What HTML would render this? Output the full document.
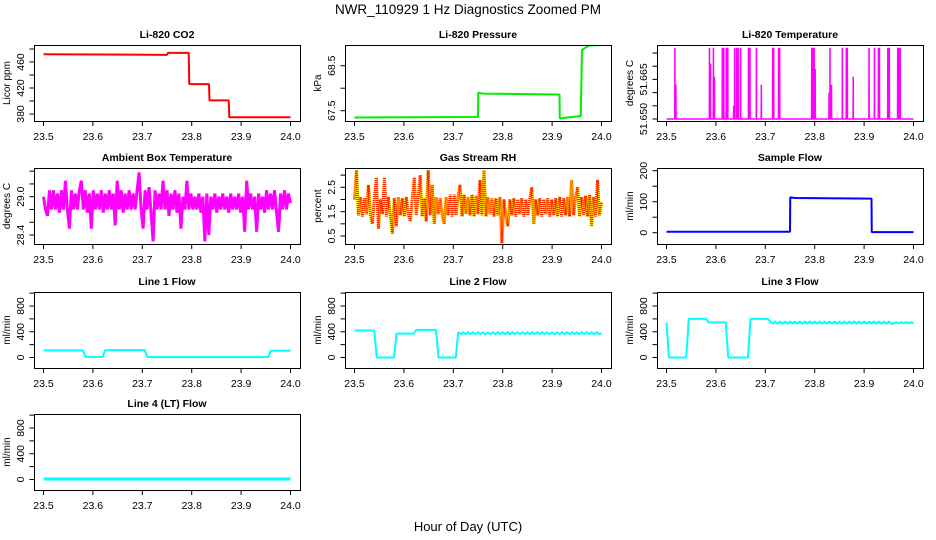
<!DOCTYPE html>
<html><head><meta charset="utf-8"><style>
html,body{margin:0;padding:0;background:#fff;}
svg{display:block;font-family:"Liberation Sans",sans-serif;}
</style></head><body>
<svg id="fig" width="936" height="540" viewBox="0 0 936 540">
<rect width="936" height="540" fill="#fff"/>
<text x="468" y="14" text-anchor="middle" font-size="13.5">NWR_110929  1 Hz Diagnostics Zoomed PM</text>
<text x="468" y="531" text-anchor="middle" font-size="13">Hour of Day (UTC)</text>
</svg>
<script>
// ---------- data ----------
var xTicks = [23.5, 23.6, 23.7, 23.8, 23.9, 24.0];
var xTickLabels = ["23.5", "23.6", "23.7", "23.8", "23.9", "24.0"];

var co2Times = [23.5, 23.75, 23.752, 23.794, 23.795, 23.835, 23.836, 23.875, 23.876, 24.0];
var co2Values = [472, 471, 474, 474, 426, 426, 401, 401, 375, 375];

var presTimes = [23.5, 23.75, 23.7505, 23.76, 23.915, 23.9155, 23.94, 23.958, 23.9605, 23.975, 24.0];
var presValues = [67.35, 67.36, 67.9, 67.88, 67.86, 67.33, 67.36, 67.38, 68.85, 68.95, 68.96];

var tempBase = 51.650;
var tempSpikeTimes = [23.517, 23.519, 23.587, 23.589, 23.595, 23.597, 23.613, 23.616, 23.621, 23.624, 23.636, 23.638, 23.642, 23.645, 23.65, 23.666, 23.669, 23.682, 23.692, 23.715, 23.717, 23.727, 23.729, 23.794, 23.796, 23.799, 23.801, 23.829, 23.831, 23.834, 23.856, 23.864, 23.866, 23.878, 23.91, 23.921, 23.929, 23.931, 23.948, 23.951, 23.968, 23.97, 23.973];
var tempSpikeValues = [51.677, 51.663, 51.677, 51.671, 51.677, 51.666, 51.677, 51.677, 51.677, 51.677, 51.655, 51.677, 51.677, 51.677, 51.677, 51.677, 51.677, 51.677, 51.663, 51.677, 51.677, 51.677, 51.677, 51.677, 51.677, 51.677, 51.669, 51.660, 51.677, 51.663, 51.677, 51.677, 51.677, 51.666, 51.677, 51.677, 51.677, 51.677, 51.677, 51.677, 51.677, 51.677, 51.677];

var ambValues = [29.0,28.8,28.7,29.1,28.8,29.1,28.8,29.05,28.75,29.1,28.8,29.25,28.8,28.5,29.1,28.8,29.05,28.8,29.1,29.25,28.8,29.1,28.75,29.05,28.5,29.1,28.8,29.05,28.8,29.1,28.75,29.05,28.8,29.1,28.8,29.05,28.55,29.25,28.8,29.1,28.75,29.05,28.8,29.1,28.8,29.05,28.8,29.1,29.38,28.8,28.5,29.1,28.8,29.15,28.75,28.3,29.1,28.8,29.05,28.8,29.25,28.8,29.1,28.7,29.05,28.8,29.1,28.75,29.05,28.5,29.0,28.8,29.25,28.8,29.05,28.8,29.0,28.8,29.05,28.75,29.0,28.3,29.05,28.4,29.0,28.8,29.05,28.75,29.0,28.8,29.05,28.8,29.0,28.75,29.05,28.8,29.0,28.8,29.05,28.75,29.0,28.45,29.25,28.8,29.05,28.8,29.0,28.45,29.05,28.8,29.0,28.75,29.1,28.8,29.05,28.8,29.1,28.75,28.45,29.05,28.8,29.1,28.8,29.05,28.9];

var rhValues = [2.0,3.2,1.35,2.1,1.3,2.05,1.4,2.6,1.35,1.0,2.1,2.9,0.8,2.0,1.4,2.9,1.3,2.1,1.35,0.6,2.05,0.9,2.1,1.35,2.05,1.3,2.1,1.4,1.1,2.05,2.9,1.35,2.1,3.0,1.3,2.05,1.1,3.2,1.35,2.6,1.0,2.1,1.4,2.05,1.35,1.0,2.1,1.35,2.2,1.3,2.2,1.35,2.15,2.6,1.3,2.2,1.4,2.1,1.35,2.2,1.3,2.15,1.4,2.8,1.35,3.2,1.3,2.1,1.4,2.05,1.3,2.05,1.35,2.1,0.2,2.0,1.3,0.9,2.0,1.35,2.05,1.3,2.0,1.4,2.05,1.3,2.0,1.35,2.05,2.5,1.0,2.0,1.35,2.05,1.3,2.0,1.4,2.05,1.3,2.0,1.35,2.05,1.3,2.1,1.3,2.05,1.35,2.1,1.3,2.8,1.35,2.1,2.5,1.3,2.1,1.35,2.15,1.3,2.2,0.9,2.1,1.3,2.8,1.35,1.9];

var sampleTimes = [23.5, 23.75, 23.7505, 23.76, 23.915, 23.9155, 24.0];
var sampleValues = [3, 3, 114, 112, 110, 2, 2];

// flows sampled every 0.005 h from 23.5 to 24.0 (101 values)
var line1Values = [110,110,110,110,110,110,110,110,110,110,110,110,110,110,110,110,110,10,10,10,10,10,10,10,10,115,115,115,115,115,115,115,115,115,115,115,115,115,115,115,115,115,5,5,5,5,5,5,5,5,5,5,5,5,5,5,5,5,5,5,5,5,5,5,5,5,5,5,5,5,5,5,5,5,5,5,5,5,5,5,5,5,5,5,5,5,5,5,5,5,5,5,105,105,105,105,105,105,105,105,105];
var line2Values = [420,420,420,420,420,420,420,420,420,0,0,0,0,0,0,0,0,370,370,370,370,370,370,370,370,430,430,430,430,430,430,430,430,430,0,0,0,0,0,0,0,0,395,360,395,360,395,360,395,360,395,360,395,360,395,360,395,360,395,360,395,360,395,360,395,360,395,360,395,360,395,360,395,360,395,360,395,360,395,360,395,360,395,360,395,360,395,360,395,360,395,360,395,360,395,360,395,360,395,360,375];
var line3Values = [540,0,0,0,0,0,0,0,0,600,600,600,600,600,600,600,600,545,545,545,545,545,545,545,545,0,0,0,0,0,0,0,0,0,600,600,600,600,600,600,600,600,560,525,560,525,560,525,560,525,560,525,560,525,560,525,560,525,560,525,560,525,560,525,560,525,560,525,560,525,560,525,560,525,560,525,560,525,560,525,560,525,560,525,560,525,560,525,560,525,560,525,530,550,530,550,530,550,530,550,530,550];
var line4Times = [23.5, 24.0];
var line4Values = [8, 8];

// ---------- drawing ----------
var NS = "http://www.w3.org/2000/svg";
var svg = document.getElementById("fig");
var colX = [34, 345, 657], rowY = [45, 168, 292, 414], BW = 266, BH = 76;

function mk(tag, attrs, parent) {
  var e = document.createElementNS(NS, tag);
  for (var k in attrs) e.setAttribute(k, attrs[k]);
  (parent || svg).appendChild(e);
  return e;
}
function gridTimes(n) { var a = []; for (var i = 0; i < n; i++) a.push(23.5 + 0.5 * i / (n - 1)); return a; }

function panel(p) {
  var L = colX[p.col], T = rowY[p.row];
  var g = mk("g", {});
  
  
  var xs = function (t) { return L + 9.5 + (t - 23.5) / 0.5 * 247; };
  var ys = function (v) { return T + p.ya.y + (v - p.ya.v) * (p.yb.y - p.ya.y) / (p.yb.v - p.ya.v); };
  var tt = mk("text", {x: L + BW / 2, y: T - 7, "text-anchor": "middle", "font-size": 10.5, "font-weight": "bold"}, g);
  tt.textContent = p.title;
  
  
  var xa = mk("g", {}, g);
  
  
  xTicks.forEach(function (t, i) {
    var x = xs(t);
    mk("line", {x1: x, x2: x, y1: T + BH, y2: T + BH + 5, stroke: "#000", "stroke-width": 1}, xa);
    var lb = mk("text", {x: x, y: T + BH + 19, "text-anchor": "middle", "font-size": 10.5}, xa);
    lb.textContent = xTickLabels[i];
  });
  var ya = mk("g", {}, g);
  
  
  p.yTicks.forEach(function (v) {
    var y = ys(v);
    mk("line", {x1: L - 4.5, x2: L, y1: y, y2: y, stroke: "#000", "stroke-width": 1}, ya);
  });
  p.yLabels.forEach(function (s, i) {
    var y = ys(p.yLabelVals[i]);
    var lb = mk("text", {x: L - 10, y: y, "text-anchor": "middle", "font-size": 10.5, transform: "rotate(-90 " + (L - 10) + " " + y + ")"}, ya);
    lb.textContent = s;
  });
  var yt = mk("text", {x: L - 24, y: T + BH / 2, "text-anchor": "middle", "font-size": 10, transform: "rotate(-90 " + (L - 24) + " " + (T + BH / 2) + ")"}, g);
  yt.textContent = p.ylab;
  
  
  var pts = p.times.map(function (t, i) { return xs(t).toFixed(2) + "," + ys(p.values[i]).toFixed(2); }).join(" ");
  var cp = "clip" + p.name;
  var cl = mk("clipPath", {id: cp}, g);
  mk("rect", {x: L, y: T, width: BW, height: BH}, cl);
  var s = mk("polyline", {points: pts, fill: "none", stroke: p.color, "stroke-width": p.sw, "stroke-linejoin": "bevel", "clip-path": "url(#" + cp + ")"}, g);
  
  
  if (p.dash) {
    var s2 = mk("polyline", {points: pts, fill: "none", stroke: p.dash, "stroke-width": p.sw, "stroke-dasharray": "1 1", "clip-path": "url(#" + cp + ")"}, g);
    
    
  }
  var box = mk("rect", {x: L + 0.5, y: T + 0.5, width: BW, height: BH, fill: "none", stroke: "#000", "stroke-width": 1}, g);
  
  
}

var tempTimes = [23.5], tempValues = [tempBase];
tempSpikeTimes.forEach(function (t, i) {
  tempTimes.push(t - 0.0003, t, t + 0.0003);
  tempValues.push(tempBase, tempSpikeValues[i], tempBase);
});
tempTimes.push(24.0); tempValues.push(tempBase);

var flowTicks = [0, 200, 400, 600, 800, 1000];
var flowAx = {ya: {v: 0, y: 65.5}, yb: {v: 800, y: 14}};
var grid101 = gridTimes(101);

panel({name: "co2", col: 0, row: 0, title: "Li-820 CO2", ylab: "Licor ppm", times: co2Times, values: co2Values, color: "#ff0000", sw: 2,
  ya: {v: 460, y: 17}, yb: {v: 380, y: 69}, yTicks: [380, 400, 420, 440, 460, 480], yLabels: ["380", "420", "460"], yLabelVals: [380, 420, 460]});
panel({name: "pressure", col: 1, row: 0, title: "Li-820 Pressure", ylab: "kPa", times: presTimes, values: presValues, color: "#00ee00", sw: 2,
  ya: {v: 68.5, y: 20.7}, yb: {v: 67.5, y: 65.7}, yTicks: [67.5, 68, 68.5], yLabels: ["67.5", "68.5"], yLabelVals: [67.5, 68.5]});
panel({name: "li820-temperature", col: 2, row: 0, title: "Li-820 Temperature", ylab: "degrees C", times: tempTimes, values: tempValues, color: "#ff00ff", sw: 1.5,
  ya: {v: 51.650, y: 74}, yb: {v: 51.665, y: 34.4}, yTicks: [51.650, 51.655, 51.660, 51.665, 51.670, 51.675], yLabels: ["51.650", "51.665"], yLabelVals: [51.650, 51.665]});
panel({name: "ambient-temperature", col: 0, row: 1, title: "Ambient Box Temperature", ylab: "degrees C", times: gridTimes(ambValues.length), values: ambValues, color: "#ff00ff", sw: 3,
  ya: {v: 29.0, y: 28.7}, yb: {v: 28.4, y: 67}, yTicks: [28.4, 28.6, 28.8, 29.0, 29.2, 29.4], yLabels: ["28.4", "29.0"], yLabelVals: [28.4, 29.0]});
panel({name: "gas-stream-rh", col: 1, row: 1, title: "Gas Stream RH", ylab: "percent", times: gridTimes(rhValues.length), values: rhValues, color: "#ffff00", dash: "#ff2000", sw: 3,
  ya: {v: 2.5, y: 19.3}, yb: {v: 0.5, y: 68}, yTicks: [0.5, 1, 1.5, 2, 2.5, 3], yLabels: ["0.5", "1.5", "2.5"], yLabelVals: [0.5, 1.5, 2.5]});
panel({name: "sample-flow", col: 2, row: 1, title: "Sample Flow", ylab: "ml/min", times: sampleTimes, values: sampleValues, color: "#0000ff", sw: 2,
  ya: {v: 200, y: 2.7}, yb: {v: 0, y: 64.7}, yTicks: [0, 50, 100, 150, 200], yLabels: ["0", "100", "200"], yLabelVals: [0, 100, 200]});
panel({name: "line1-flow", col: 0, row: 2, title: "Line 1 Flow", ylab: "ml/min", times: grid101, values: line1Values, color: "#00ffff", sw: 2,
  ya: flowAx.ya, yb: flowAx.yb, yTicks: flowTicks, yLabels: ["0", "400", "800"], yLabelVals: [0, 400, 800]});
panel({name: "line2-flow", col: 1, row: 2, title: "Line 2 Flow", ylab: "ml/min", times: grid101, values: line2Values, color: "#00ffff", sw: 2,
  ya: flowAx.ya, yb: flowAx.yb, yTicks: flowTicks, yLabels: ["0", "400", "800"], yLabelVals: [0, 400, 800]});
panel({name: "line3-flow", col: 2, row: 2, title: "Line 3 Flow", ylab: "ml/min", times: grid101, values: line3Values, color: "#00ffff", sw: 2,
  ya: flowAx.ya, yb: flowAx.yb, yTicks: flowTicks, yLabels: ["0", "400", "800"], yLabelVals: [0, 400, 800]});
panel({name: "line4-flow", col: 0, row: 3, title: "Line 4 (LT) Flow", ylab: "ml/min", times: line4Times, values: line4Values, color: "#00ffff", sw: 3,
  ya: flowAx.ya, yb: flowAx.yb, yTicks: flowTicks, yLabels: ["0", "400", "800"], yLabelVals: [0, 400, 800]});
</script>
</body></html>
